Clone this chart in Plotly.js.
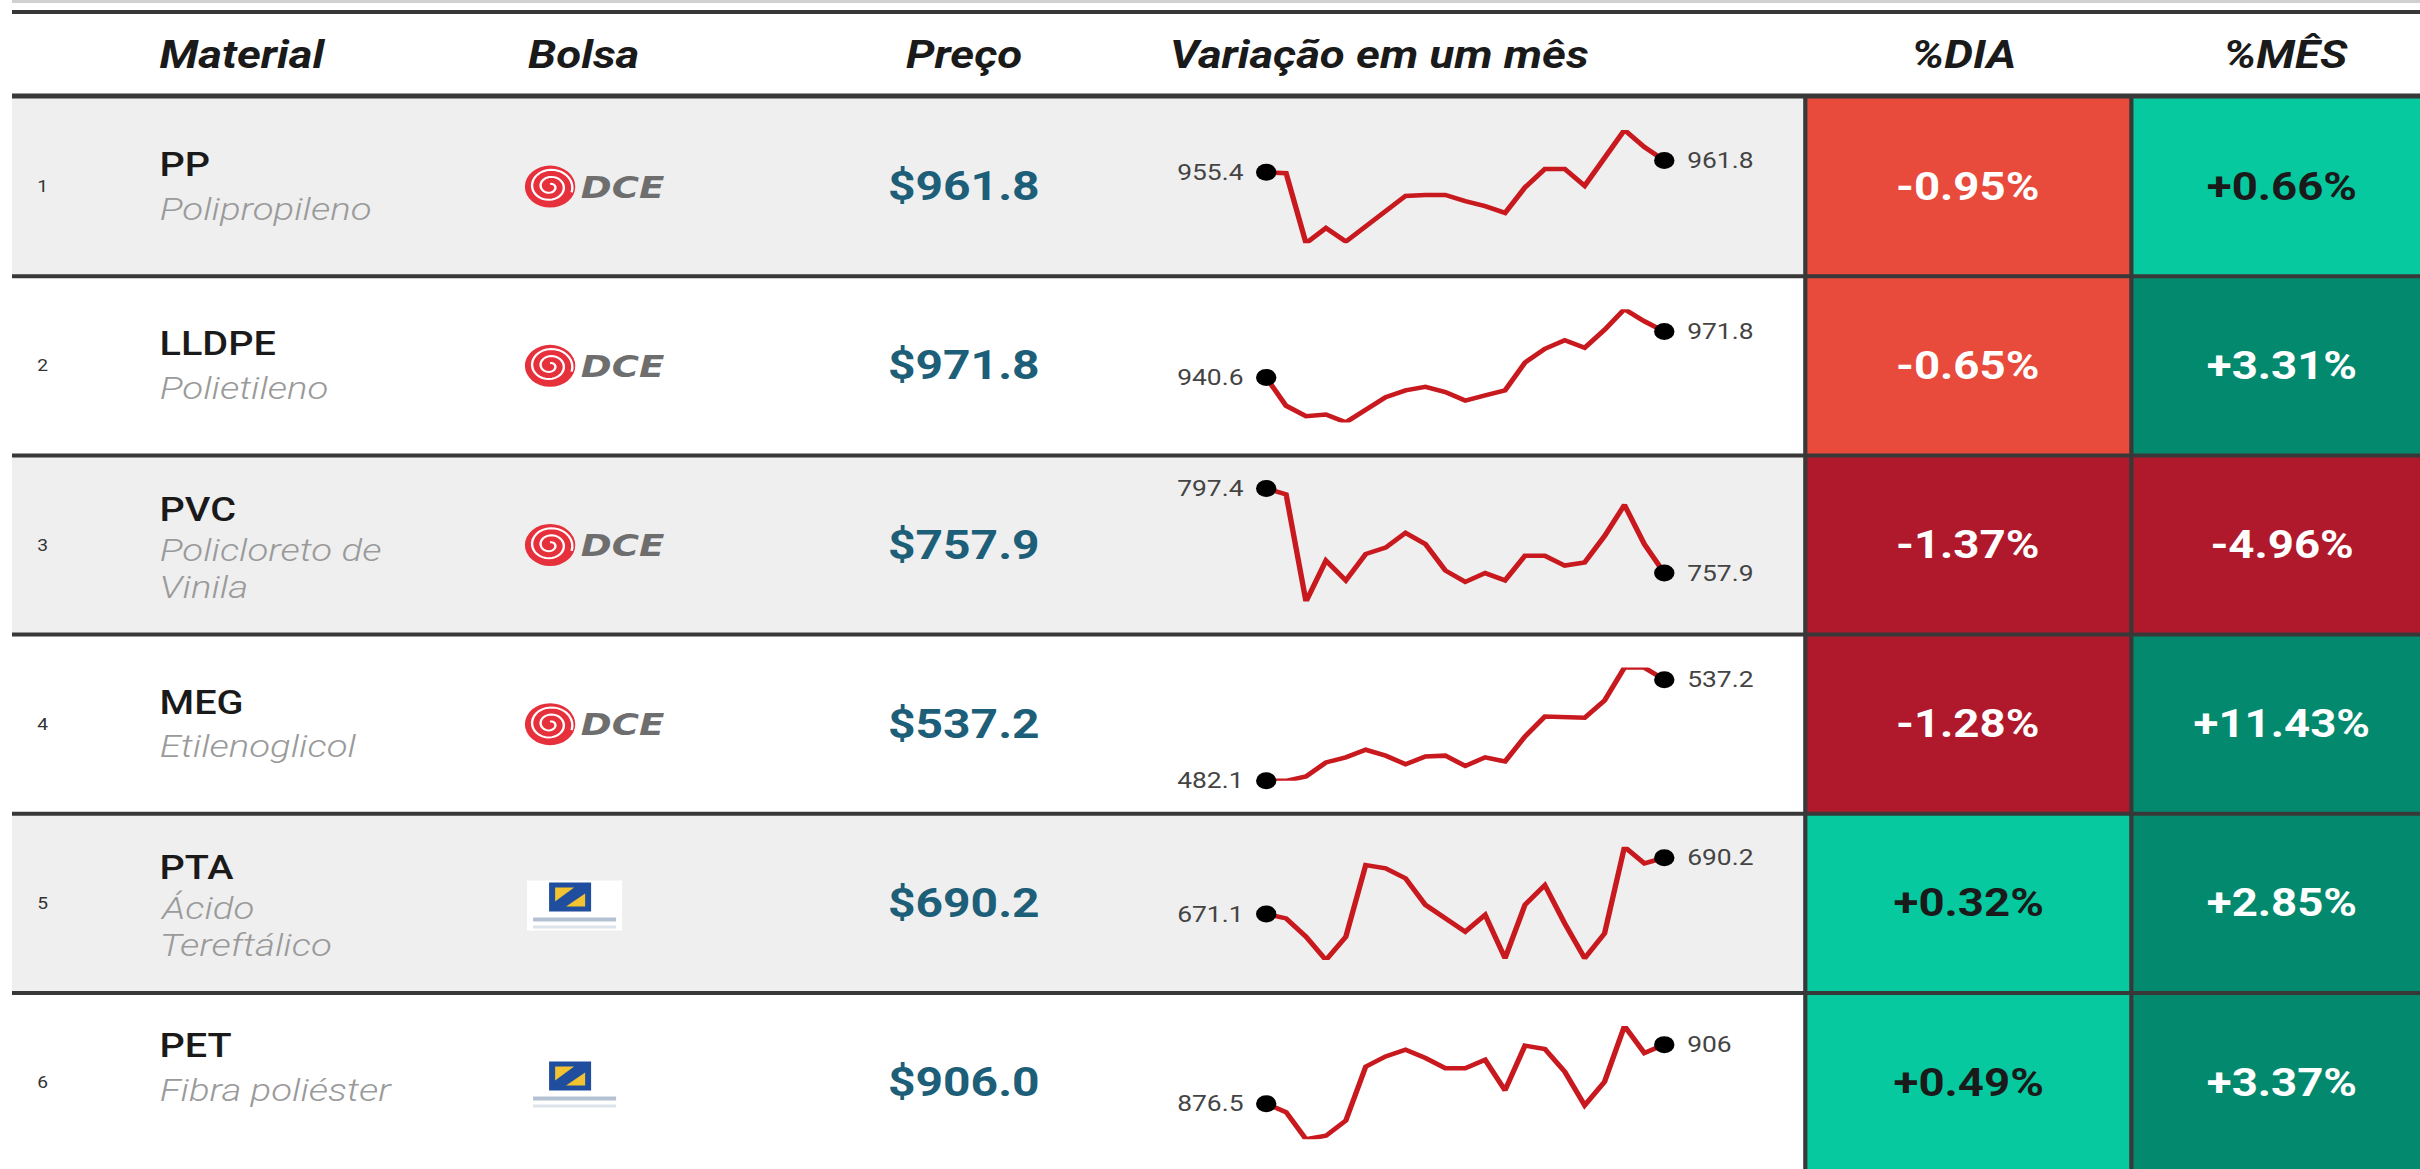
<!DOCTYPE html>
<html>
<head>
<meta charset="utf-8">
<script src="https://cdn.plot.ly/plotly-3.0.1.min.js"></script>
<style>
  html, body { margin: 0; padding: 0; background: #fff; overflow: hidden; }
  /* the reference table is stretched ~1.2x horizontally, so draw narrow and scale */
  #table { width: 2017px; height: 1169px; transform: scaleX(1.2); transform-origin: 0 0; }
</style>
</head>
<body>
<div id="table"></div>
<script>
// commodity price table with one-month sparklines

const rank = [1, 2, 3, 4, 5, 6];
const materials = ['PP', 'LLDPE', 'PVC', 'MEG', 'PTA', 'PET'];
const descriptions = [
  ['Polipropileno'],
  ['Polietileno'],
  ['Policloreto de', 'Vinila'],
  ['Etilenoglicol'],
  ['Ácido', 'Tereftálico'],
  ['Fibra poliéster']
];
const exchanges = ['DCE', 'DCE', 'DCE', 'DCE', 'ZCE', 'ZCE'];
const prices = [961.8, 971.8, 757.9, 537.2, 690.2, 906.0];
const pctDay = [-0.95, -0.65, -1.37, -1.28, 0.32, 0.49];
const pctMonth = [0.66, 3.31, -4.96, 11.43, 2.85, 3.37];
const headers = ['Material', 'Bolsa', 'Preço', 'Variação em um mês', '%DIA', '%MÊS'];

// daily closes over the month
const ppSeries = [955.4, 954.9, 917.0, 925.2, 917.9, 926.1, 934.4, 942.6, 943.1, 943.1, 939.8,
  937.1, 933.4, 947.2, 957.2, 957.2, 948.1, 963.6, 978.3, 969.1, 961.8];
const lldpeSeries = [940.6, 921.4, 914.3, 915.5, 910.1, 919.0, 927.2, 931.9, 934.3, 930.7, 924.9,
  928.4, 931.9, 950.7, 960.1, 965.9, 960.8, 973.0, 987.0, 978.8, 971.8];
const pvcSeries = [797.4, 794.6, 744.6, 763.7, 754.5, 766.8, 769.8, 776.7, 771.4, 759.1, 753.8,
  757.9, 754.5, 766.0, 766.0, 761.4, 762.9, 775.2, 789.7, 771.4, 757.9];
const megSeries = [482.1, 482.1, 484.5, 492.1, 494.9, 499.0, 495.8, 491.1, 495.3, 495.8, 490.2,
  494.9, 492.6, 506.2, 517.1, 516.5, 516.5, 525.9, 543.8, 543.8, 537.2];
const ptaSeries = [671.1, 669.6, 663.4, 655.5, 663.4, 687.7, 686.6, 683.2, 674.2, 669.6, 665.1,
  670.8, 656.1, 674.2, 680.9, 667.9, 656.1, 664.5, 693.9, 688.3, 690.2];
const petSeries = [876.5, 872.3, 858.8, 860.5, 868.1, 895.0, 900.1, 903.5, 899.3, 894.2, 894.2,
  898.4, 883.2, 905.5, 903.8, 892.5, 875.7, 887.5, 915.3, 901.8, 906.0];
const seriesList = [ppSeries, lldpeSeries, pvcSeries, megSeries, ptaSeries, petSeries];

// geometry, in pixels of the 2420x1169 picture
const REF_W = 2420, H = 1169;
const X = x => x / REF_W;
const Y = y => 1 - y / H;
const ROW_TOP = 97, ROW_H = 179.2;
const rowTop = i => ROW_TOP + i * ROW_H;
const rowMid = i => rowTop(i) + ROW_H / 2;
const LINE = '#383838';
const FONT = 'Roboto, "Open Sans", sans-serif';

function cellColor(v) {
  if (v <= -1) return '#b0192b';
  if (v < 0) return '#e84b3c';
  if (v < 1) return '#07c9a0';
  return '#038a6e';
}
function cellTextColor(v) {
  return (v >= 0 && v < 1) ? '#1a1a1a' : '#ffffff';
}
const signed = v => (v > 0 ? '+' : '') + v.toFixed(2) + '%';
const short = v => String(+v.toFixed(1));

function rect(x0, y0, x1, y1, color) {
  return { type: 'rect', xref: 'paper', yref: 'paper', layer: 'below',
    x0: X(x0), x1: X(x1), y0: Y(y1), y1: Y(y0),
    fillcolor: color, line: { width: 0 } };
}
function hline(y, x0, x1, width) {
  return { type: 'line', xref: 'paper', yref: 'paper', layer: 'below',
    x0: X(x0), x1: X(x1), y0: Y(y), y1: Y(y), line: { color: LINE, width: width } };
}
function vline(x, y0, y1) {
  return { type: 'line', xref: 'paper', yref: 'paper', layer: 'below',
    x0: X(x), x1: X(x), y0: Y(y0), y1: Y(y1), line: { color: LINE, width: 3.5 } };
}
function text(x, y, str, font, xanchor) {
  return { xref: 'paper', yref: 'paper', x: X(x), y: Y(y), text: str, showarrow: false,
    xanchor: xanchor || 'left', yanchor: 'middle', font: Object.assign({ family: FONT }, font) };
}

// DCE swirl logo
function swirlPath(cx, cy, r) {
  let d = '';
  const n = 70, turns = 2.3;
  for (let k = 0; k <= n; k++) {
    const a = (k / n) * turns * 2 * Math.PI - Math.PI / 2;
    const rr = r * (0.12 + 0.78 * k / n);
    const x = cx + rr * Math.cos(a) * 1.2;
    const y = cy + rr * Math.sin(a);
    d += (k ? ' L' : 'M') + X(x).toFixed(5) + ',' + Y(y).toFixed(5);
  }
  return d;
}
function dceLogo(cy, shapes, annotations) {
  const cx = 550, r = 21;
  shapes.push({ type: 'circle', xref: 'paper', yref: 'paper', layer: 'below',
    x0: X(cx - r * 1.2), x1: X(cx + r * 1.2), y0: Y(cy + r), y1: Y(cy - r),
    fillcolor: '#e6303c', line: { width: 0 } });
  shapes.push({ type: 'path', xref: 'paper', yref: 'paper', layer: 'below',
    path: swirlPath(cx, cy, r), line: { color: '#ffffff', width: 2 } });
  annotations.push(text(578, cy, 'DCE',
    { family: '"DejaVu Sans", sans-serif', size: 31, color: '#6e6e6e', weight: 'bold', style: 'italic' }));
}

// Zhengzhou exchange logo
function zceLogo(cy, shapes) {
  shapes.push(rect(527, cy - 25, 622, cy + 25, '#ffffff'));
  shapes.push(rect(549, cy - 23, 591, cy + 6, '#1f4e9e'));
  const tri = pts => ({ type: 'path', xref: 'paper', yref: 'paper', layer: 'below',
    path: 'M' + pts.map(p => X(p[0]).toFixed(5) + ',' + Y(p[1]).toFixed(5)).join(' L') + ' Z',
    fillcolor: '#f2c230', line: { width: 0 } });
  shapes.push(tri([[555, cy - 18], [574, cy - 18], [555, cy - 4]]));
  shapes.push(tri([[585, cy + 1], [566, cy + 1], [585, cy - 12]]));
  shapes.push(rect(533, cy + 12, 616, cy + 16, '#b4c1d2'));
  shapes.push(rect(533, cy + 20, 616, cy + 23, '#dde3ea'));
}

const shapes = [];
const annotations = [];
const traces = [];
const layout = {
  width: 2017, height: H,
  margin: { l: 0, r: 0, t: 0, b: 0 },
  paper_bgcolor: '#ffffff',
  plot_bgcolor: 'rgba(0,0,0,0)',
  showlegend: false,
  font: { family: FONT }
};

// frame and header
shapes.push(rect(12, 0, REF_W, 3, '#d0d0d0'));
shapes.push(hline(12, 12, REF_W, 4));
const headFont = { size: 38, color: '#1a1a1a', weight: 'bold', style: 'italic' };
annotations.push(text(157, 55, headers[0], headFont));
annotations.push(text(526, 55, headers[1], headFont));
annotations.push(text(964, 55, headers[2], headFont, 'center'));
annotations.push(text(1168, 55, headers[3], headFont));
annotations.push(text(1964, 55, headers[4], headFont, 'center'));
annotations.push(text(2285, 55, headers[5], headFont, 'center'));

materials.forEach((name, i) => {
  const top = rowTop(i), bot = rowTop(i + 1), mid = rowMid(i);
  if (i % 2 === 0) shapes.push(rect(12, top, 1805, bot, '#efefef'));
  shapes.push(rect(1805, top, 2131, bot, cellColor(pctDay[i])));
  shapes.push(rect(2131, top, REF_W, bot, cellColor(pctMonth[i])));

  annotations.push(text(43, mid, String(rank[i]), { size: 16, color: '#333333' }, 'center'));

  // material name and description
  const desc = descriptions[i];
  const tmid = i === materials.length - 1 ? mid - 15 : mid;
  const nameY = desc.length > 1 ? tmid - 36 : tmid - 22;
  annotations.push(text(157, nameY, name, { size: 33, color: '#1a1a1a', weight: 500 }));
  desc.forEach((line, k) => {
    const y = desc.length > 1 ? tmid + 5 + k * 37 : tmid + 22;
    annotations.push(text(157, y, line, { size: 32, color: '#9a9a9a', style: 'italic', weight: 300 }));
  });

  if (exchanges[i] === 'DCE') dceLogo(mid, shapes, annotations);
  else zceLogo(mid + 2, shapes);

  annotations.push(text(964, mid, '$' + prices[i].toFixed(1),
    { size: 40, color: '#1d5e78', weight: 'bold' }, 'center'));

  annotations.push(text(1968, mid, signed(pctDay[i]),
    { size: 38, color: cellTextColor(pctDay[i]), weight: 'bold' }, 'center'));
  annotations.push(text(2282, mid, signed(pctMonth[i]),
    { size: 38, color: cellTextColor(pctMonth[i]), weight: 'bold' }, 'center'));

  // sparkline in its own pair of axes
  const s = seriesList[i];
  const ax = i === 0 ? '' : String(i + 1);
  const days = s.map((_, k) => k);
  const last = s.length - 1;
  traces.push({ type: 'scatter', mode: 'lines', x: days, y: s, xaxis: 'x' + ax, yaxis: 'y' + ax,
    line: { color: '#c8191f', width: 4.5 }, cliponaxis: false, hoverinfo: 'skip' });
  traces.push({ type: 'scatter', mode: 'markers', x: [0, last], y: [s[0], s[last]],
    xaxis: 'x' + ax, yaxis: 'y' + ax, marker: { color: '#000000', size: 17 },
    cliponaxis: false, hoverinfo: 'skip' });
  layout['xaxis' + ax] = { domain: [X(1266), X(1664)], range: [0, last], visible: false, fixedrange: true };
  layout['yaxis' + ax] = { domain: [Y(bot - 33), Y(top + 33)],
    range: [Math.min(...s), Math.max(...s)], visible: false, fixedrange: true };
  const lblFont = { family: FONT, size: 22, color: '#444444' };
  annotations.push({ xref: 'x' + ax, yref: 'y' + ax, x: 0, y: s[0], text: short(s[0]),
    showarrow: false, xanchor: 'right', yanchor: 'middle', xshift: -17, font: lblFont });
  annotations.push({ xref: 'x' + ax, yref: 'y' + ax, x: last, y: s[last], text: short(s[last]),
    showarrow: false, xanchor: 'left', yanchor: 'middle', xshift: 17, font: lblFont });
});

// grid lines
shapes.push(hline(96, 12, REF_W, 5));
for (let i = 1; i < materials.length; i++) shapes.push(hline(rowTop(i), 12, REF_W, 4));
shapes.push(vline(1805, ROW_TOP, H));
shapes.push(vline(2131, ROW_TOP, H));

layout.shapes = shapes;
layout.annotations = annotations;

Plotly.newPlot('table', traces, layout, { staticPlot: true, displayModeBar: false });
</script>
</body>
</html>
